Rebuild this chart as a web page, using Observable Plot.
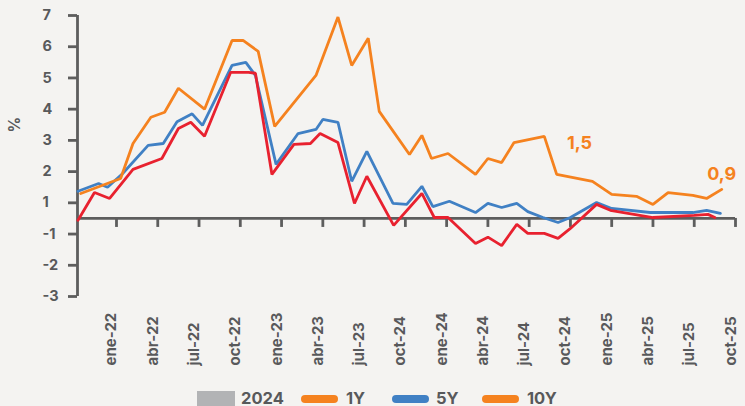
<!DOCTYPE html>
<html><head><meta charset="utf-8">
<script src="https://cdn.jsdelivr.net/npm/d3@7"></script>
<script src="https://cdn.jsdelivr.net/npm/@observablehq/plot@0.6"></script>
<style>
html,body{margin:0;padding:0;background:#f4f3f1;width:745px;height:406px;overflow:hidden;font-family:Inter,"Noto Sans",sans-serif;}
#chart{position:absolute;left:0;top:0;}
#legend{position:absolute;left:0;top:0;width:745px;height:406px;}
.sw{position:absolute;}
.lt{position:absolute;font-weight:700;font-size:16.5px;color:#58595b;line-height:13px;white-space:nowrap;}
</style></head><body>
<div id="chart"></div><div id="legend"></div>
<script>
// x positions are month indexes (0 = ene-22)
const xTickMonths = [0,3,6,9,12,15,18,21,24,27,30,33,36,39,42,45];
const xTickLabels = ["ene-22","abr-22","jul-22","oct-22","ene-23","abr-23","jul-23","oct-24","ene-24","abr-24","jul-24","oct-24","ene-25","abr-25","jul-25","oct-25"];
const yTickValues = [-2.5,-1.5,-0.5,0.5,1.5,2.5,3.5,4.5,5.5,6.5];
const yTickLabels = ["-3","-2","-1","1","2","3","4","5","6","7"];

const months10Y = [-2.6,0.3,1.2,2.5,3.5,4.5,6.4,8.4,9.2,10.3,11.5,14.5,16.1,17.1,18.3,19.1,21.3,22.2,22.9,24.1,26.1,27.0,28.0,28.9,31.1,32.0,34.6,36.0,37.8,39.0,40.1,41.9,42.9,44.0];
const values10Y = [0.80,1.28,2.4,3.24,3.4,4.17,3.5,5.7,5.7,5.35,2.95,4.58,6.45,4.9,5.77,3.43,2.05,2.66,1.92,2.08,1.41,1.92,1.79,2.43,2.63,1.41,1.19,0.77,0.71,0.45,0.83,0.74,0.64,0.93];

const months5Y = [-2.8,-1.3,-0.65,0.45,2.3,3.4,4.4,5.5,6.25,8.4,9.4,10.1,11.6,13.2,14.5,15.0,16.1,17.1,18.2,20.1,21.1,22.2,23.0,24.2,26.1,27.0,28.0,29.1,29.9,31.0,32.1,33.0,34.9,36.0,38.8,41.9,42.9,43.9];
const values5Y = [0.87,1.12,1.0,1.44,2.34,2.4,3.1,3.35,2.98,4.9,5.0,4.58,1.73,2.72,2.85,3.17,3.08,1.19,2.15,0.48,0.45,1.03,0.38,0.55,0.19,0.48,0.35,0.48,0.22,0.03,-0.13,0.03,0.51,0.32,0.19,0.19,0.26,0.16];

const months1Y = [-2.8,-1.6,-0.5,1.2,3.3,4.5,5.4,6.4,8.3,9.6,10.1,11.3,12.9,14.1,14.8,16.1,17.3,18.2,20.15,22.2,23.1,24.1,26.1,27.0,28.0,29.1,29.9,31.1,32.1,33.0,34.9,35.9,39.0,42.0,43.0,43.5];
const values1Y = [-0.06,0.83,0.64,1.57,1.92,2.88,3.08,2.63,4.68,4.68,4.65,1.41,2.37,2.4,2.72,2.43,0.48,1.35,-0.22,0.8,0.03,0.03,-0.8,-0.6,-0.87,-0.19,-0.48,-0.48,-0.64,-0.32,0.45,0.26,0.03,0.1,0.13,0.03];

const annotationMonths = [33.66, 44.0];
const annotationValues = [2.4, 1.43];
const annotationLabels = ["1,5", "0,9"];

const legendLabels = ["2024","1Y","5Y","10Y"];

const C_ORANGE = "#f5821f", C_BLUE = "#4080c4", C_RED = "#e8212f", C_AXIS = "#5d5d5d", C_TEXT = "#58595b", C_GRAY = "#b2b3b5";
const xMin = -2.835, xMax = 45;

const zip = (ms, vs) => ms.map((m, i) => ({m, v: vs[i]}));
const d10 = zip(months10Y, values10Y), d5 = zip(months5Y, values5Y), d1 = zip(months1Y, values1Y);
const ann = annotationMonths.map((m, i) => ({m, v: annotationValues[i], label: annotationLabels[i]}));

const plot = Plot.plot({
  width: 745, height: 380,
  marginLeft: 77, marginRight: 10, marginTop: 15, marginBottom: 84,
  style: {background: "transparent", fontFamily: "Inter, 'Noto Sans', sans-serif", overflow: "visible"},
  x: {type: "linear", domain: [xMin, xMax], axis: null},
  y: {domain: [-2.5, 6.5], axis: null},
  marks: [
    Plot.ruleX(xTickMonths, {x: d => d, y1: 0, y2: 0, insetBottom: -9, stroke: C_AXIS, strokeWidth: 2.8}),
    Plot.ruleY(yTickValues, {y: d => d, x1: xMin, x2: xMin, insetLeft: -9, stroke: C_AXIS, strokeWidth: 2.8}),
    Plot.ruleY([0], {stroke: C_AXIS, strokeWidth: 2.8}),
    Plot.ruleX([xMin], {stroke: C_AXIS, strokeWidth: 2.8}),
    Plot.line(d5, {x: "m", y: "v", stroke: C_BLUE, strokeWidth: 2.8, strokeLinejoin: "miter"}),
    Plot.line(d1, {x: "m", y: "v", stroke: C_RED, strokeWidth: 2.8, strokeLinejoin: "miter"}),
    Plot.line(d10, {x: "m", y: "v", stroke: C_ORANGE, strokeWidth: 2.8, strokeLinejoin: "miter"}),
    Plot.text(yTickValues, {y: d => d, text: (d, i) => yTickLabels[i], frameAnchor: "left", dx: -35, textAnchor: "start", fontSize: 14.5, fontWeight: 700, fill: C_TEXT}),
    Plot.text(xTickMonths, {x: d => d, text: (d, i) => xTickLabels[i], frameAnchor: "bottom", dy: 69, rotate: -90, textAnchor: "start", fontSize: 15, fontWeight: 700, fill: C_TEXT}),
    Plot.text(["%"], {frameAnchor: "left", dx: -62, dy: -23.5, rotate: -90, fontSize: 15.5, fontWeight: 700, fill: C_TEXT}),
    Plot.text(ann, {x: "m", y: "v", text: "label", fill: C_ORANGE, fontSize: 18, fontWeight: 700})
  ]
});
document.getElementById("chart").appendChild(plot);

// legend
const legend = document.getElementById("legend");
const swatches = [
  {left: 197, top: 391, w: 38, h: 15, color: C_GRAY, r: 0, textLeft: 241},
  {left: 301, top: 395, w: 37, h: 8, color: C_ORANGE, r: 4, textLeft: 346},
  {left: 392, top: 395, w: 37, h: 8, color: C_BLUE, r: 4, textLeft: 436},
  {left: 482, top: 395, w: 37, h: 8, color: C_ORANGE, r: 4, textLeft: 527}
];
swatches.forEach((s, i) => {
  const d = document.createElement("div");
  d.className = "sw";
  Object.assign(d.style, {left: s.left + "px", top: s.top + "px", width: s.w + "px", height: s.h + "px", background: s.color, borderRadius: s.r + "px"});
  legend.appendChild(d);
  const t = document.createElement("div");
  t.className = "lt";
  t.style.left = s.textLeft + "px";
  t.style.top = "392px";
  t.textContent = legendLabels[i];
  legend.appendChild(t);
});
</script>
</body></html>
